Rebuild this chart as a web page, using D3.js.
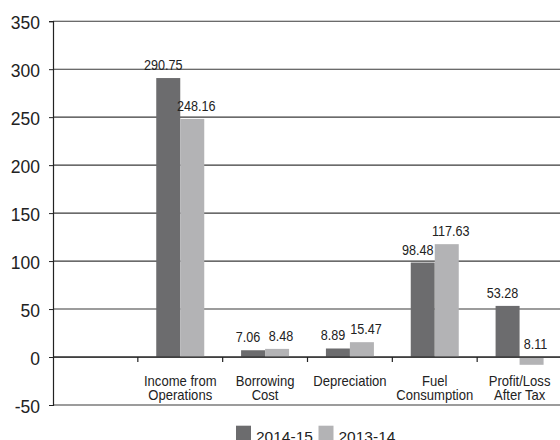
<!DOCTYPE html>
<html>
<head>
<meta charset="utf-8">
<script src="https://cdn.jsdelivr.net/npm/d3@7"></script>
<style>
  html, body { margin: 0; padding: 0; background: #fff; }
  svg { display: block; }
</style>
</head>
<body>
<svg id="chart" width="560" height="440"></svg>
<script>
// Financial highlights (Rs. crore), two years side by side
const categories = ["", "Income from Operations", "Borrowing Cost", "Depreciation", "Fuel Consumption", "Profit/Loss After Tax"];
const categoryLines = [[], ["Income from", "Operations"], ["Borrowing", "Cost"], ["Depreciation"], ["Fuel", "Consumption"], ["Profit/Loss", "After Tax"]];
const series = ["2014-15", "2013-14"];
const values2014 = [null, 290.75, 7.06, 8.89, 98.48, 53.28];
const values2013 = [null, 248.16, 8.48, 15.47, 117.63, -8.11];
const yTicks = [-50, 0, 50, 100, 150, 200, 250, 300, 350];
const colors = ["#6c6c6e", "#b3b3b5"];

const svg = d3.select("#chart");
const plotLeft = 53, plotRight = 562, plotTop = 21.2, plotBottom = 405;
const sansFont = "'Liberation Sans', Arial, Helvetica, sans-serif";

// squeeze a text run horizontally to mimic a condensed face
function condense(sel, factor) {
  sel.each(function () {
    const w = this.getComputedTextLength();
    d3.select(this).attr("textLength", w * factor).attr("lengthAdjust", "spacingAndGlyphs");
  });
}

const x = d3.scaleBand().domain(categories.map((c, i) => i)).range([plotLeft, plotRight]).paddingInner(0).paddingOuter(0);
const y = d3.scaleLinear().domain([-50, 350]).range([plotBottom, plotTop]);
const barW = 24;

// horizontal grid lines
svg.append("g").selectAll("line").data(yTicks).join("line")
  .attr("x1", plotLeft).attr("x2", 560)
  .attr("y1", d => y(d)).attr("y2", d => y(d))
  .attr("stroke", "#3a3a3a").attr("stroke-width", 1.1);

// y axis
const yAxis = d3.axisLeft(y).tickValues(yTicks).tickSize(4).tickPadding(9).tickFormat(d => String(d));
const gy = svg.append("g").attr("transform", `translate(${plotLeft},0)`).call(yAxis);
gy.select(".domain").attr("stroke", "#222").attr("stroke-width", 1.2);
gy.selectAll(".tick line").attr("stroke", "#222");
gy.selectAll(".tick text")
  .attr("font-family", sansFont)
  .attr("font-size", 17.5).attr("fill", "#222").attr("dy", "0.40em");

// bars
const rows = categories.map((c, i) => ({ i, vals: [values2014[i], values2013[i]] })).filter(r => r.vals[0] !== null);
const groups = svg.append("g").selectAll("g").data(rows).join("g");
groups.selectAll("rect").data(r => r.vals.map((v, k) => ({ i: r.i, k, v }))).join("rect")
  .attr("x", d => x(d.i) + x.bandwidth() / 2 - barW + d.k * barW)
  .attr("width", barW)
  .attr("y", d => y(Math.max(0, d.v)))
  .attr("height", d => Math.abs(y(d.v) - y(0)))
  .attr("fill", d => colors[d.k]);

// zero baseline with category separators
svg.append("line").attr("x1", plotLeft).attr("x2", 560).attr("y1", y(0)).attr("y2", y(0))
  .attr("stroke", "#222").attr("stroke-width", 1.2);
svg.append("g").selectAll("line").data(categories.map((c, i) => i).slice(1)).join("line")
  .attr("x1", d => x(d)).attr("x2", d => x(d))
  .attr("y1", y(0)).attr("y2", y(0) + 5)
  .attr("stroke", "#222").attr("stroke-width", 1.2);

// value labels (magnitude shown above the bar or above the baseline)
const fmt = d3.format(".2f");
groups.selectAll("text").data(r => r.vals.map((v, k) => ({ i: r.i, k, v }))).join("text")
  .attr("x", d => x(d.i) + x.bandwidth() / 2 - barW / 2 + d.k * barW + (d.k === 0 ? -5 : 4))
  .attr("y", d => y(Math.max(0, d.v)) - 8)
  .attr("text-anchor", "middle")
  .attr("font-family", sansFont)
  .attr("font-size", 14).attr("fill", "#222")
  .text(d => fmt(Math.abs(d.v)))
  .call(condense, 0.9);

// category labels
const cat = svg.append("g").selectAll("text").data(categoryLines.map((lines, i) => ({ i, lines }))).join("text")
  .attr("y", 386)
  .attr("text-anchor", "middle")
  .attr("font-family", sansFont)
  .attr("font-size", 15).attr("fill", "#222");
cat.selectAll("tspan").data(d => d.lines.map((t, j) => ({ t, j, cx: x(d.i) + x.bandwidth() / 2 }))).join("tspan")
  .attr("x", d => d.cx).attr("dy", d => d.j === 0 ? 0 : 13.5).text(d => d.t)
  .call(condense, 0.87);

// legend
const legend = svg.append("g").attr("font-family", sansFont).attr("font-size", 15.5).attr("fill", "#222");
const legendX = [236, 318.5];
series.forEach((s, k) => {
  legend.append("rect").attr("x", legendX[k]).attr("y", 425.7).attr("width", 15).attr("height", 15).attr("fill", colors[k]);
  legend.append("text").attr("x", legendX[k] + 20).attr("y", 441.5).text(s);
});
</script>
</body>
</html>
